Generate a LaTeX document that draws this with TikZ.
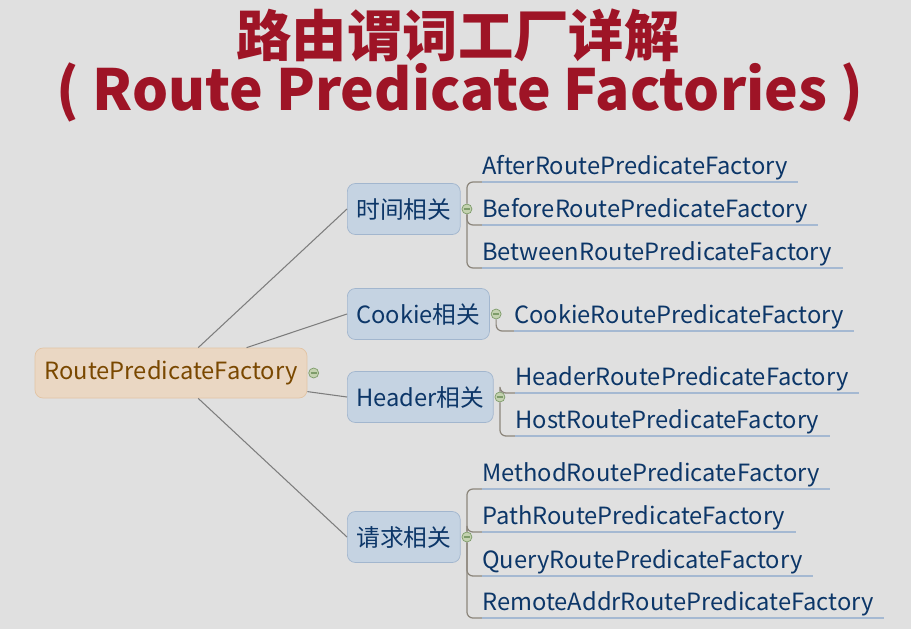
\documentclass[tikz,border=0pt]{standalone}
\usepackage{fontspec}
\newfontfamily\cjk{Noto Sans CJK SC}
\usetikzlibrary{positioning}

\definecolor{bgc}{RGB}{224,224,224}
\definecolor{titlered}{RGB}{158,20,38}
\definecolor{rootfill}{RGB}{234,215,195}
\definecolor{rootline}{RGB}{226,196,164}
\definecolor{roottext}{RGB}{122,72,0}
\definecolor{midfill}{RGB}{197,211,226}
\definecolor{midline}{RGB}{162,182,206}
\definecolor{navy}{RGB}{12,54,104}
\definecolor{ulinec}{RGB}{165,185,210}
\definecolor{brkc}{RGB}{140,134,124}
\definecolor{knobfill}{RGB}{196,210,176}
\definecolor{knobline}{RGB}{126,156,106}
\definecolor{linkc}{RGB}{125,125,125}

\tikzset{
  rootbox/.style={draw=rootline, fill=rootfill, rounded corners=0.16cm, text=roottext,
    minimum width=5.44cm, minimum height=1cm, font=\cjk\fontsize{13.5}{16}\selectfont},
  midbox/.style={draw=midline, fill=midfill, rounded corners=0.16cm, text=navy,
    minimum height=1.02cm, inner xsep=0.18cm, anchor=west, font=\cjk\fontsize{13.5}{16}\selectfont},
  leaf/.style={anchor=south west, inner xsep=0pt, inner ysep=0pt, text depth=0.14cm,
    text=navy, font=\cjk\fontsize{13.5}{16}\selectfont},
  knob/.style={circle, draw=knobline, fill=knobfill, minimum size=0.2cm, inner sep=0pt,
    path picture={\draw[knobline, line width=0.6pt]
      ([xshift=-0.06cm]path picture bounding box.center) --
      ([xshift=0.06cm]path picture bounding box.center);}},
  link/.style={draw=linkc, line width=0.6pt},
  brace/.style={draw=brkc, line width=0.7pt, rounded corners=0.12cm},
  uline/.style={draw=ulinec, line width=0.7pt},
}

\begin{document}
\begin{tikzpicture}[x=0.02cm, y=-0.02cm]
    % 背景
    \fill[bgc] (0,0) rectangle (911,629);
    \useasboundingbox (0,0) rectangle (911,629);

    % 标题
    \node[text=titlered, font=\cjk\bfseries\fontsize{31.5}{36}\selectfont] (title) at (458,35) {路由谓词工厂详解};
    \node[text=titlered, font=\cjk\bfseries\fontsize{32.3}{36}\selectfont] (subtitle) at (460,92) {( Route Predicate Factories )};

    % 中心主题
    \node[rootbox] (root) at (171,373) {RoutePredicateFactory};
    \node[knob, right=0.02cm of root] (rk) {};

    % 分支主题
    \node[midbox] (t1) at (347,209) {时间相关};
    \node[midbox] (t2) at (347,314) {Cookie相关};
    \node[midbox] (t3) at (347,397) {Header相关};
    \node[midbox] (t4) at (347,537) {请求相关};

    \node[knob, right=0.02cm of t1] (t1k) {};
    \node[knob, right=0.02cm of t2] (t2k) {};
    \node[knob, right=0.02cm of t3] (t3k) {};
    \node[knob, right=0.02cm of t4] (t4k) {};

    % 中心到分支的连线
    \draw[link] (root) -- (t1.west);
    \draw[link] (root) -- (t2.west);
    \draw[link] (root) -- (t3.west);
    \draw[link] (root) -- (t4.west);

    % 子主题
    \node[leaf] (a1) at (482,182) {AfterRoutePredicateFactory};
    \node[leaf] (a2) at (482,225) {BeforeRoutePredicateFactory};
    \node[leaf] (a3) at (482,268) {BetweenRoutePredicateFactory};
    \node[leaf] (c1) at (514,331) {CookieRoutePredicateFactory};
    \node[leaf] (h1) at (515,393) {HeaderRoutePredicateFactory};
    \node[leaf] (h2) at (515,436) {HostRoutePredicateFactory};
    \node[leaf] (q1) at (482,489) {MethodRoutePredicateFactory};
    \node[leaf] (q2) at (482,532) {PathRoutePredicateFactory};
    \node[leaf] (q3) at (482,576) {QueryRoutePredicateFactory};
    \node[leaf] (q4) at (482,618) {RemoteAddrRoutePredicateFactory};

    % 括号线与下划线
    \foreach \k/\l in {t1k/a1, t1k/a2, t1k/a3, t2k/c1, t3k/h1, t3k/h2,
                       t4k/q1, t4k/q2, t4k/q3, t4k/q4} {
      \draw[brace] (\k) |- (\l.south west);
      \draw[uline] (\l.south west) -- ([xshift=0.2cm]\l.south east);
    }
\end{tikzpicture}
\end{document}
